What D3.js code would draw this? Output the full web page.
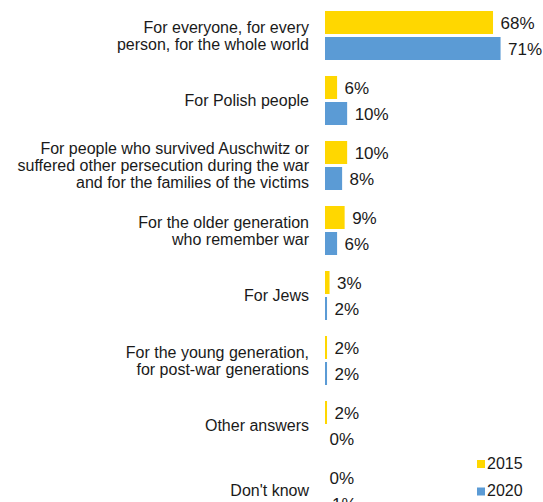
<!DOCTYPE html>
<html>
<head>
<meta charset="utf-8">
<script src="https://cdn.jsdelivr.net/npm/d3@7"></script>
<style>
  body { margin: 0; background: #fff; }
  svg text { font-family: "Liberation Sans", Arial, sans-serif; fill: #1a1a1a; }
</style>
</head>
<body>
<div id="chart"></div>
<script>
// category labels, one entry per line of text
let categories = [
  ["For everyone, for every", "person, for the whole world"],
  ["For Polish people"],
  ["For people who survived Auschwitz or", "suffered other persecution during the war", "and for the families of the victims"],
  ["For the older generation", "who remember war"],
  ["For Jews"],
  ["For the young generation,", "for post-war generations"],
  ["Other answers"],
  ["Don't know"]
];
let years = ["2015", "2020"];
let values2015 = [68, 6, 10, 9, 3, 2, 2, 0];
let values2020 = [71, 10, 8, 6, 2, 2, 0, 1];
let colors = ["#FFD700", "#5B9BD5"];

let w = 543;
let h = 502;
let lineH = 17;

let svg = d3.select("#chart").append("svg")
  .attr("width", w)
  .attr("height", h);

let ids = categories.map((d, i) => i);

let yScale = d3.scaleBand()
  .domain(ids)
  .range([3, 523])
  .paddingInner(0.2)
  .paddingOuter(0.1);

let ySub = d3.scaleBand()
  .domain(years)
  .range([0, yScale.bandwidth()]);

let xScale = d3.scaleLinear()
  .domain([0, 100])
  .range([323.5, 323.5 + 251.5]);

let color = d3.scaleOrdinal().domain(years).range(colors);

let rows = ids.map(i => ({ i: i, lines: categories[i], vals: [values2015[i], values2020[i]] }));

let group = svg.selectAll(".cat")
  .data(rows)
  .enter()
  .append("g")
  .attr("class", "cat")
  .attr("transform", d => `translate(0, ${yScale(d.i)})`);

// bars (white outline like the original)
group.selectAll("rect")
  .data(d => d.vals.map((v, k) => ({ year: years[k], v: v })))
  .enter()
  .append("rect")
  .attr("x", xScale(0))
  .attr("y", d => ySub(d.year))
  .attr("width", d => xScale(d.v) - xScale(0))
  .attr("height", ySub.bandwidth())
  .attr("fill", d => color(d.year))
  .attr("stroke", "#fff")
  .attr("stroke-width", 3);

// value labels
group.selectAll(".val")
  .data(d => d.vals.map((v, k) => ({ year: years[k], v: v })))
  .enter()
  .append("text")
  .attr("class", "val")
  .attr("x", d => xScale(d.v) + 6)
  .attr("y", d => ySub(d.year) + ySub.bandwidth() / 2)
  .attr("dy", "0.36em")
  .style("font-size", "17px")
  .text(d => d.v + "%");

// category labels
let mid = yScale.bandwidth() / 2;
group.append("text")
  .attr("text-anchor", "end")
  .style("font-size", "16px")
  .selectAll("tspan")
  .data(d => d.lines.map((t, k) => ({ t: t, k: k, n: d.lines.length })))
  .enter()
  .append("tspan")
  .attr("x", 309)
  .attr("y", d => mid + (d.k - (d.n - 1) / 2) * lineH)
  .attr("dy", "0.36em")
  .text(d => d.t);

// legend
let legend = svg.selectAll(".legend")
  .data(years)
  .enter()
  .append("g")
  .attr("class", "legend")
  .attr("transform", (d, i) => `translate(477, ${460 + i * 27.5})`);

legend.append("rect")
  .attr("width", 8)
  .attr("height", 8)
  .attr("fill", d => color(d));

legend.append("text")
  .attr("x", 10)
  .attr("y", 8.5)
  .style("font-size", "16px")
  .text(d => d);
</script>
</body>
</html>
